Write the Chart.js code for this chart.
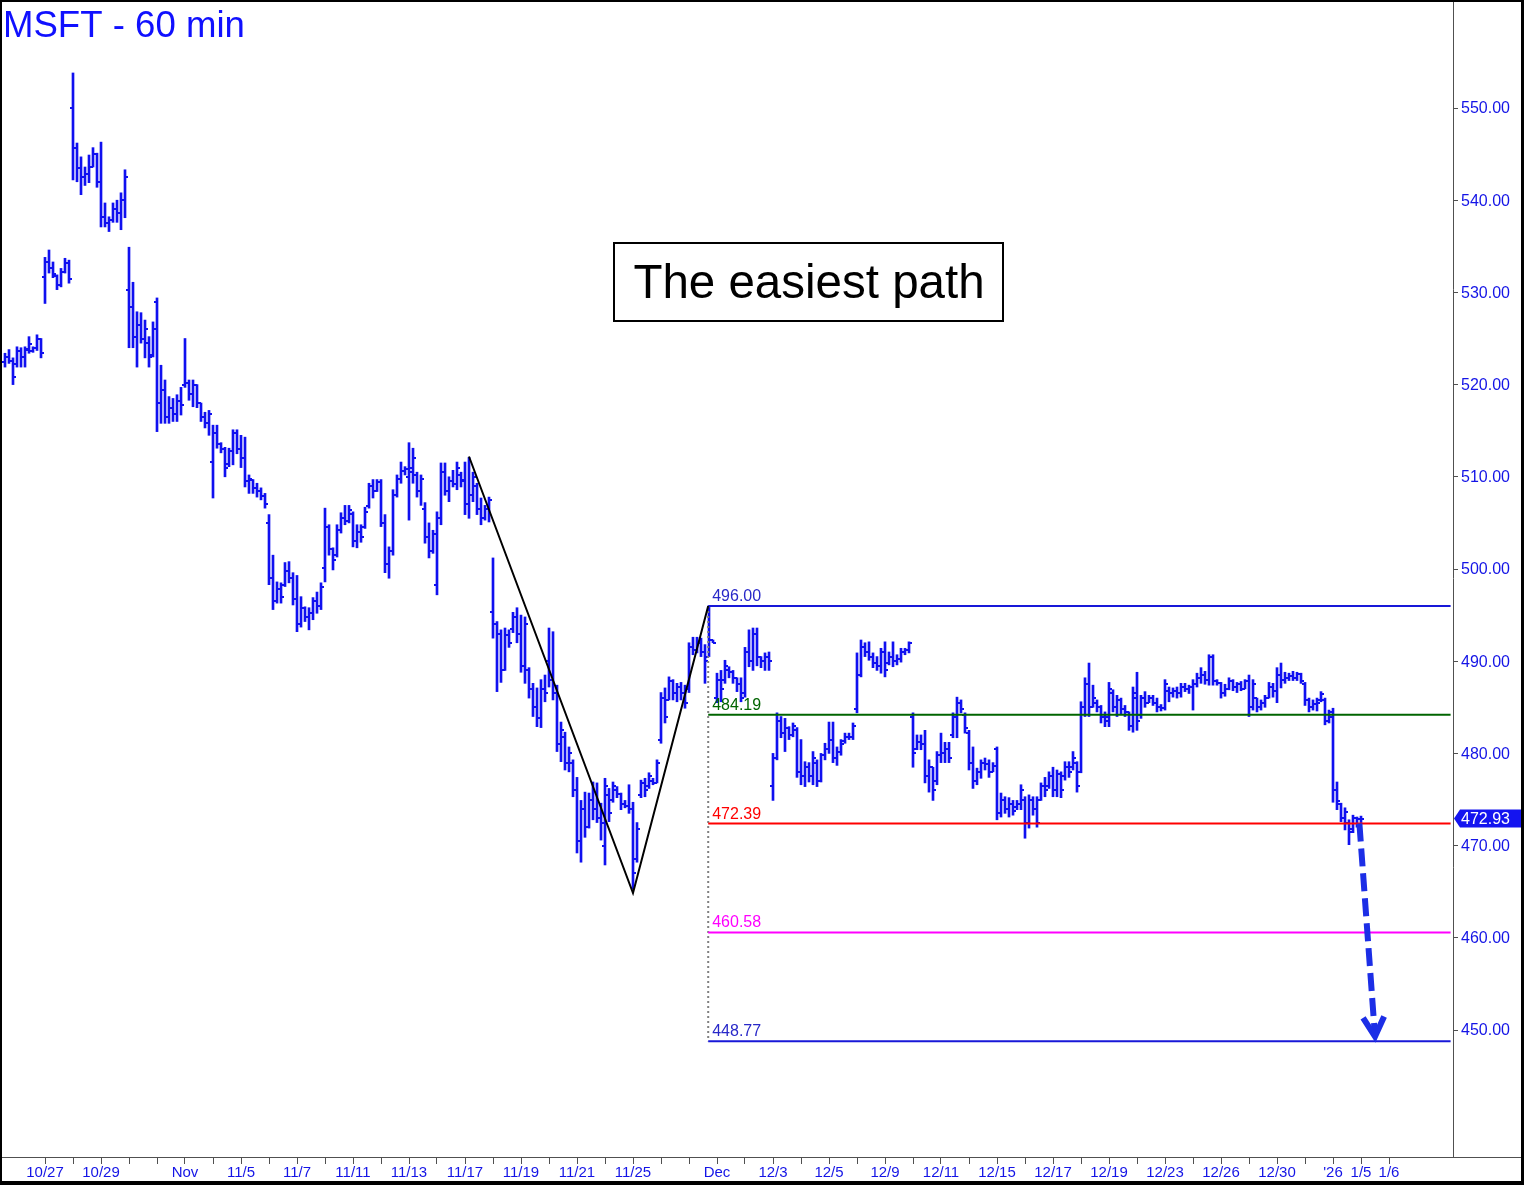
<!DOCTYPE html>
<html>
<head>
<meta charset="utf-8">
<title>MSFT - 60 min</title>
<script src="https://cdn.jsdelivr.net/npm/chart.js"></script>
<style>
  html, body { margin: 0; padding: 0; background: #fff; }
  #wrap { position: relative; width: 1524px; height: 1185px; }
</style>
</head>
<body>
<div id="wrap"><canvas id="chart"></canvas></div>
<script>
// hourly bars: [open, high, low, close], first one is bar index -10
const firstBar = -10;
const barsPerDay = 7;
const bars = [
  // 10/23 - 10/24
  [522.5,523.4,521.9,523.0],[523.0,523.8,522.3,522.6],[522.6,522.9,520.0,520.8],
  [522.2,524.1,521.9,523.6],[523.6,524.0,521.9,523.0],[523.0,524.1,521.9,523.9],[523.8,525.2,523.4,524.4],[523.6,524.1,523.5,524.0],[524.0,525.4,523.7,525.0],[525.0,525.0,522.9,523.4],
  // 10/27
  [531.7,533.8,528.8,533.3],[533.3,534.6,532.1,532.6],[532.6,533.3,531.6,532.0],[531.8,531.9,530.3,530.8],[530.8,532.6,530.6,532.2],[532.2,533.7,532.1,533.2],[533.2,533.5,531.0,531.4],
  // 10/28
  [550.0,553.8,542.2,545.7],[545.7,546.2,542.0,543.5],[543.5,544.7,540.6,542.5],[542.5,543.6,541.6,542.8],[542.8,544.9,541.9,543.6],[543.6,545.7,543.6,545.0],[545.0,545.1,541.4,542.0],
  // 10/29
  [542.0,546.3,537.1,538.2],[538.2,539.7,537.1,537.5],[537.5,538.2,536.6,537.8],[537.8,539.7,537.6,539.0],[539.0,540.0,537.6,538.6],[538.6,540.8,536.8,540.0],[540.0,543.3,538.1,542.5],
  // 10/30
  [530.3,534.9,524.0,528.4],[528.4,531.1,524.0,525.2],[525.2,527.9,521.9,526.5],[526.5,527.8,524.5,525.0],[525.0,527.0,522.9,526.0],[524.5,525.2,521.9,523.0],[523.2,526.8,523.0,526.0],
  // 10/31
  [529.0,529.4,514.9,518.0],[518.0,522.1,515.8,519.4],[519.4,520.5,515.8,516.5],[516.5,518.7,515.8,517.5],[517.5,518.5,516.0,516.8],[516.8,518.9,516.0,518.2],[518.2,519.7,516.7,517.8],
  // 11/3
  [520.0,525.0,519.7,520.2],[520.2,520.5,518.3,519.0],[519.0,520.5,517.6,520.0],[520.0,520.0,517.5,518.0],[518.0,518.0,516.0,516.5],[516.5,517.0,515.3,515.8],[515.8,517.2,514.5,516.8],
  // 11/4
  [511.6,515.6,507.7,514.7],[514.7,515.6,513.1,513.6],[513.6,513.7,512.6,513.0],[513.0,513.2,510.0,511.0],[511.4,513.1,511.1,512.8],[512.8,515.1,511.3,514.8],[514.8,515.1,512.5,513.0],
  // 11/5
  [513.0,514.5,511.0,512.0],[512.0,514.3,508.9,509.5],[509.5,510.2,508.2,509.8],[509.6,509.7,508.2,508.8],[508.8,509.3,507.8,508.5],[508.5,508.8,507.5,507.9],[507.9,508.2,506.6,507.0],
  // 11/6
  [505.0,505.9,498.3,499.0],[499.0,501.5,495.6,496.5],[496.5,498.6,496.3,497.8],[497.8,498.5,496.3,497.0],[498.3,500.7,498.1,499.8],[499.8,500.8,498.5,499.0],[499.0,499.6,496.1,496.8],
  // 11/7
  [496.8,499.3,493.2,494.0],[494.0,497.0,493.7,495.8],[495.8,495.9,494.3,494.8],[494.8,495.8,493.4,495.2],[495.2,496.9,494.5,496.5],[496.5,497.5,495.2,496.0],[496.0,498.5,495.6,498.0],
  // 11/10
  [500.1,506.6,498.6,504.6],[504.6,504.8,501.5,502.2],[502.2,502.3,499.9,501.0],[501.5,504.8,501.3,504.2],[504.2,506.1,503.9,505.5],[505.5,506.9,504.8,505.2],[505.2,506.9,505.0,506.4],
  // 11/11
  [506.0,506.2,502.4,503.0],[503.0,504.8,502.3,504.0],[504.0,504.8,502.9,503.5],[504.6,506.7,504.4,506.2],[506.8,509.3,506.6,509.0],[509.0,509.7,507.7,508.5],[508.5,509.7,508.4,509.4],
  // 11/12
  [509.4,509.7,504.6,505.0],[505.0,505.9,499.6,500.5],[500.5,502.4,499.0,502.0],[502.0,508.6,501.5,508.0],[508.0,510.2,507.8,509.8],[509.8,511.6,509.3,510.6],[510.6,511.1,510.2,510.8],
  // 11/13
  [510.0,513.7,505.3,511.0],[510.5,513.1,509.3,512.0],[510.2,510.5,507.8,508.5],[508.5,510.2,506.9,509.8],[506.5,507.2,502.8,503.5],[503.5,505.0,501.2,502.0],[502.0,504.2,501.7,503.8],
  // 11/14
  [498.3,506.2,497.2,505.5],[505.5,511.5,504.8,510.5],[510.5,511.5,508.0,508.5],[508.5,510.0,507.3,509.5],[509.5,510.7,508.9,509.2],[509.2,511.6,508.6,511.0],[510.2,510.5,508.9,509.6],
  // 11/17
  [509.5,511.6,505.9,507.0],[507.0,512.1,505.5,508.0],[508.0,510.5,507.3,510.0],[509.0,509.3,505.9,506.5],[506.5,507.7,504.8,505.5],[505.5,506.9,505.3,506.5],[506.5,507.8,505.1,507.5],
  // 11/18
  [495.3,501.2,492.5,494.0],[494.0,494.3,486.7,493.0],[493.0,493.4,487.7,489.0],[489.0,493.6,489.0,492.8],[492.8,493.4,491.5,492.0],[493.5,495.3,493.1,494.8],[494.8,495.8,492.0,493.0],
  // 11/19
  [493.0,495.0,488.8,489.5],[489.5,494.8,487.6,494.0],[489.0,489.3,486.0,487.0],[487.0,487.6,484.0,485.0],[485.0,487.1,482.9,483.8],[483.8,488.0,482.8,487.0],[487.0,488.5,485.6,486.5],
  // 11/20
  [490.0,493.6,487.2,488.0],[488.0,493.2,485.8,486.5],[486.5,487.4,480.2,481.0],[481.0,483.4,479.1,482.5],[481.8,482.3,478.2,479.0],[479.0,480.7,478.0,480.0],[479.0,479.3,475.3,476.0],
  // 11/21
  [476.0,477.4,469.2,470.5],[470.5,474.9,468.2,474.0],[474.0,475.8,470.9,472.0],[472.0,475.7,471.9,475.0],[475.0,476.9,472.8,474.0],[474.0,476.8,472.5,473.0],[473.0,474.6,470.6,472.5],
  // 11/24
  [470.0,477.3,467.9,476.5],[475.5,476.2,472.6,473.5],[475.0,476.9,474.7,476.5],[476.0,476.4,475.2,475.6],[475.6,475.7,473.9,474.5],[474.5,474.9,474.1,474.3],[474.3,476.6,473.5,474.0],
  // 11/25
  [474.0,474.7,465.3,467.0],[468.5,472.5,468.2,471.8],[475.5,477.1,475.2,476.8],[476.8,477.3,475.3,476.0],[476.5,477.9,476.2,477.5],[477.0,477.3,476.6,476.8],[476.8,479.3,476.8,479.0],
  // 11/26
  [481.5,486.6,481.1,486.0],[486.0,487.1,483.3,484.0],[485.8,488.3,485.8,487.8],[487.8,488.0,485.8,486.5],[486.5,487.6,485.6,487.2],[487.2,487.7,485.8,486.5],[486.5,487.4,484.9,485.5],
  // 11/28
  [487.0,492.0,486.6,491.5],[491.5,492.6,490.7,491.2],[491.2,492.6,490.9,492.0],[492.0,492.5,490.5,491.0],[491.0,491.8,487.6,490.0],[490.5,496.0,490.5,492.3],[492.3,492.3,492.0,492.0],
  // 12/1
  [486.0,488.7,485.5,488.0],[488.0,489.0,485.6,487.0],[488.0,490.1,487.6,489.5],[489.0,489.4,488.2,488.8],[488.8,489.0,487.6,488.2],[488.2,488.2,486.7,487.5],[487.5,488.2,485.6,486.0],
  // 12/2
  [486.5,491.5,486.1,491.0],[491.0,493.4,489.4,490.0],[490.0,493.6,489.0,493.0],[493.0,493.6,489.5,490.5],[490.5,490.5,489.3,490.0],[490.0,490.9,489.0,490.5],[490.5,491.0,489.0,490.0],
  // 12/3
  [476.5,480.0,474.9,479.5],[479.5,484.4,479.3,483.5],[483.5,484.0,481.7,482.2],[482.2,483.8,480.2,482.8],[482.8,482.9,481.5,482.0],[482.0,483.3,481.8,483.0],[482.5,482.8,477.4,478.0],
  // 12/4
  [478.0,481.5,476.6,477.5],[477.5,479.1,476.4,478.5],[478.5,479.0,476.9,477.5],[477.5,480.2,476.6,479.5],[479.0,479.3,476.4,477.0],[477.0,480.0,476.9,479.8],[479.8,481.1,479.3,480.5],
  // 12/5
  [480.5,483.4,480.0,481.5],[481.5,483.4,479.0,479.5],[479.5,480.7,478.7,480.2],[480.2,481.5,479.8,481.0],[481.3,482.2,481.1,481.8],[481.8,482.2,481.5,481.8],[481.8,483.3,481.5,483.0],
  // 12/8
  [484.8,490.9,484.4,488.5],[488.5,492.3,488.3,491.5],[491.5,492.0,490.5,491.0],[491.0,492.1,490.1,490.5],[490.5,490.9,489.3,489.8],[489.8,490.5,489.0,489.5],[489.5,491.4,488.7,491.0],
  // 12/9
  [491.0,492.1,488.3,489.0],[489.8,491.0,489.6,490.5],[490.5,492.1,489.4,490.0],[490.0,490.7,489.6,490.2],[490.2,491.4,489.9,491.0],[491.0,491.4,490.7,491.2],[491.2,492.1,490.9,492.0],
  // 12/10
  [484.0,484.4,478.5,480.0],[480.5,482.0,480.4,481.2],[481.2,482.0,480.4,481.0],[481.0,482.5,476.8,477.5],[477.5,479.3,475.8,478.5],[478.5,478.5,474.9,476.0],[477.0,480.2,476.6,479.8],
  // 12/11
  [479.8,482.2,479.0,480.0],[480.0,481.2,479.0,480.5],[480.5,481.2,479.0,479.5],[482.0,484.4,481.7,484.0],[484.0,486.1,481.7,485.5],[485.5,485.8,484.4,484.8],[484.2,484.4,482.2,482.8],
  // 12/12
  [482.2,482.5,478.2,479.0],[479.0,480.7,476.2,477.0],[477.0,478.4,476.6,478.0],[478.0,479.3,477.3,479.0],[479.0,479.5,478.2,478.8],[478.8,479.3,477.4,478.0],[478.0,479.0,478.0,478.6],
  // 12/15
  [480.5,480.7,472.8,473.5],[473.5,475.7,473.1,475.0],[475.0,475.3,473.5,474.0],[474.0,475.2,473.1,474.5],[474.5,474.9,473.3,473.8],[474.2,474.9,473.9,474.5],[474.5,476.6,473.9,476.0],
  // 12/16
  [475.0,475.3,470.8,472.5],[472.5,475.5,471.9,475.0],[475.0,475.3,473.3,474.0],[474.0,475.3,472.0,472.5],[475.0,476.8,474.9,476.5],[476.5,477.4,475.3,476.0],[476.5,478.0,476.2,477.5],
  // 12/17
  [477.5,478.5,475.3,476.0],[476.0,478.2,475.3,477.8],[477.8,478.0,475.2,476.0],[477.5,479.1,477.1,478.5],[478.5,479.1,477.4,478.0],[478.5,480.2,478.2,479.5],[479.0,479.1,475.8,476.5],
  // 12/18
  [478.0,485.6,477.9,485.0],[485.0,488.2,484.0,487.5],[487.5,489.8,484.0,485.0],[485.0,487.4,485.0,486.0],[485.5,485.8,484.5,485.0],[485.0,485.2,483.3,484.0],[484.0,484.5,482.9,483.5],
  // 12/19
  [484.0,487.7,482.9,487.0],[486.5,486.9,484.5,485.0],[485.0,486.3,484.0,485.8],[485.8,486.0,484.2,484.8],[484.8,485.2,484.0,484.5],[484.5,484.5,482.5,483.0],[483.0,487.2,482.3,486.5],
  // 12/22
  [486.0,488.8,482.5,483.5],[484.2,486.3,483.8,486.0],[486.0,486.7,485.0,485.5],[485.5,486.3,485.5,486.0],[486.0,486.3,485.2,485.5],[485.5,486.0,484.5,485.0],[485.0,485.3,484.6,484.9],
  // 12/23
  [484.9,488.0,484.7,487.5],[486.8,487.2,485.6,486.5],[486.5,487.1,486.1,486.8],[486.8,487.2,486.0,486.5],[486.5,487.6,486.1,487.2],[487.2,487.6,486.7,487.0],[487.0,487.4,486.5,487.2],
  // 12/24
  [487.2,488.0,484.7,487.5],[487.5,488.7,487.2,488.2],[488.2,489.3,487.6,488.5],[488.5,488.9,487.5,488.0],[488.0,490.7,487.4,490.5],[490.5,490.7,487.4,487.8],[487.8,488.0,487.4,487.6],
  // 12/26
  [487.6,487.7,486.0,486.5],[486.5,487.5,486.2,487.0],[487.0,488.2,486.9,487.8],[487.8,488.0,486.8,487.2],[487.2,487.7,486.6,487.5],[487.5,487.8,486.8,487.0],[487.0,488.0,487.0,487.8],
  // 12/29
  [487.8,488.5,484.0,485.0],[485.0,488.0,484.7,487.5],[486.0,486.0,484.5,485.0],[485.0,485.8,484.7,485.5],[485.5,486.3,485.0,486.0],[486.0,487.7,486.0,487.2],[487.2,487.6,486.1,486.8],
  // 12/30
  [486.8,489.3,485.5,488.5],[488.5,489.8,487.1,488.0],[488.0,488.8,487.6,488.2],[488.2,488.7,487.9,488.4],[488.4,488.9,487.9,488.2],[488.2,488.8,487.9,488.6],[488.6,488.7,487.6,487.9],
  // 12/31
  [487.5,487.7,485.2,485.8],[485.8,486.0,484.5,485.0],[485.0,485.8,484.7,485.4],[485.4,486.0,484.6,485.5],[485.8,486.7,485.6,486.4],[485.8,486.0,483.1,483.5],[483.5,484.7,483.3,484.5],
  // 1/2
  [484.0,484.9,474.7,476.0],[476.0,476.9,473.9,474.8],[474.5,474.6,472.6,473.0],[473.0,474.1,471.7,473.6],[472.5,472.8,470.1,471.5],[471.8,473.3,471.4,473.0],[473.0,473.1,472.0,472.9],
  // 1/5
  [472.9,473.2,472.5,472.93]
];
const lastPrice = 472.93;

// x axis: day index (0 = 10/27), a tick on every day, text on some
const dayTicks = [0,1,2,3,4,5,6,7,8,9,10,11,12,13,14,15,16,17,18,19,20,21,22,23,24,25,26,27,28,29,30,31,32,33,34,35,36,37,38,39,40,41,42,43,44,45,46,47,48];
const labelDays = [0, 2, 5, 7, 9, 11, 13, 15, 17, 19, 21, 24, 26, 28, 30, 32, 34, 36, 38, 40, 42, 44, 46, 47, 48];
const labelTexts = ['10/27','10/29','Nov','11/5','11/7','11/11','11/13','11/17','11/19','11/21','11/25','Dec','12/3','12/5','12/9','12/11','12/15','12/17','12/19','12/23','12/26','12/30',"'26",'1/5','1/6'];

// y axis ticks
const yTicks = [450, 460, 470, 480, 490, 500, 510, 520, 530, 540, 550];

// target levels, drawn from the 11/28 high
const levels = [496.00, 484.19, 472.39, 460.58, 448.77];
const levelStart = 165.8;
const levelEnd = 351.4;

// ABC swing line (bar index, price)
const abcBars = [106, 147, 165.8];
const abcPrices = [512.2, 464.86, 496.0];

// projected move arrow
const arrowFrom = [328.6, 472.4];
const arrowTo = [332.5, 449.3];

// styles
const FONT = '"Liberation Sans", Arial, Helvetica, sans-serif';
const barColor = '#1010f0';
const axisTextColor = '#1414e6';
const levelLineColors = ['#1818d8', '#006400', '#ff0000', '#ff00ff', '#1818d8'];
const levelTextColors = ['#2828c8', '#006400', '#ff0000', '#ff00ff', '#2828c8'];
const arrowColor = '#1c2ee6';

// open / close tick images
function tickImage(side) {
    const c = document.createElement('canvas');
    c.width = 6;
    c.height = 2;
    const g = c.getContext('2d');
    g.fillStyle = barColor;
    g.fillRect(side === 'left' ? 0 : 3, 0, 3, 2);
    return c;
}

// no automatic label padding, so the plot area stays where the picture has it
function fixScale(scale, size) {
    if (scale.isHorizontal()) scale.height = size;
    else scale.width = size;
    scale.paddingLeft = 0;
    scale.paddingRight = 0;
    scale.paddingTop = 0;
    scale.paddingBottom = 0;
}

const rangeData = bars.map((b, i) => ({ x: firstBar + i, y: [b[2], b[1]] }));
const openData = bars.map((b, i) => ({ x: firstBar + i, y: b[0] }));
const closeData = bars.map((b, i) => ({ x: firstBar + i, y: b[3] }));

const levelSets = levels.map((v, i) => ({
    type: 'line',
    data: [{ x: levelStart, y: v }, { x: levelEnd, y: v }],
    borderColor: levelLineColors[i],
    borderWidth: 2,
    pointRadius: 0,
    order: 1
}));

// overlay: frame, titles, level labels, price tag, arrow head
const overlay = {
    id: 'overlay',
    afterDraw(chart) {
        const { ctx, chartArea, scales: { x, y } } = chart;
        ctx.save();

        // axis lines
        ctx.strokeStyle = '#505050';
        ctx.lineWidth = 1;
        ctx.beginPath();
        ctx.moveTo(chartArea.right + 0.5, 0);
        ctx.lineTo(chartArea.right + 0.5, chartArea.bottom);
        ctx.moveTo(0, chartArea.bottom + 0.5);
        ctx.lineTo(chart.width, chartArea.bottom + 0.5);
        ctx.stroke();

        // level labels
        ctx.font = '16px ' + FONT;
        ctx.textAlign = 'left';
        ctx.textBaseline = 'alphabetic';
        levels.forEach((v, i) => {
            ctx.fillStyle = levelTextColors[i];
            ctx.fillText(v.toFixed(2), x.getPixelForValue(levelStart) + 4, y.getPixelForValue(v) - 5);
        });

        // arrow head
        const x0 = x.getPixelForValue(arrowFrom[0]), y0 = y.getPixelForValue(arrowFrom[1]);
        const x1 = x.getPixelForValue(arrowTo[0]), y1 = y.getPixelForValue(arrowTo[1]);
        const ang = Math.atan2(y1 - y0, x1 - x0);
        const len = 22, spread = 0.5;
        ctx.strokeStyle = arrowColor;
        ctx.lineWidth = 6;
        ctx.lineJoin = 'miter';
        ctx.beginPath();
        ctx.moveTo(x1 - len * Math.cos(ang - spread), y1 - len * Math.sin(ang - spread));
        ctx.lineTo(x1, y1);
        ctx.lineTo(x1 - len * Math.cos(ang + spread), y1 - len * Math.sin(ang + spread));
        ctx.stroke();

        // last price tag
        const py = y.getPixelForValue(lastPrice);
        const left = chartArea.right + 1;
        ctx.fillStyle = '#1414f0';
        ctx.beginPath();
        ctx.moveTo(left, py);
        ctx.lineTo(left + 6, py - 9);
        ctx.lineTo(chart.width - 3, py - 9);
        ctx.lineTo(chart.width - 3, py + 9);
        ctx.lineTo(left + 6, py + 9);
        ctx.closePath();
        ctx.fill();
        ctx.fillStyle = '#ffffff';
        ctx.font = '16px ' + FONT;
        ctx.textBaseline = 'middle';
        ctx.fillText(lastPrice.toFixed(2), left + 7, py + 1);

        // title
        ctx.fillStyle = '#1010ff';
        ctx.font = '36.6px ' + FONT;
        ctx.textBaseline = 'alphabetic';
        ctx.fillText('MSFT - 60 min', 3, 37);

        // caption box
        ctx.fillStyle = '#ffffff';
        ctx.fillRect(613, 242, 391, 80);
        ctx.strokeStyle = '#000000';
        ctx.lineWidth = 2;
        ctx.strokeRect(614, 243, 389, 78);
        ctx.fillStyle = '#000000';
        ctx.font = '47.5px ' + FONT;
        ctx.textAlign = 'center';
        ctx.fillText('The easiest path', 809, 298);

        // image frame
        ctx.fillStyle = '#000000';
        ctx.fillRect(0, 0, chart.width, 2);
        ctx.fillRect(0, 0, 2, chart.height);
        ctx.fillRect(chart.width - 3, 0, 3, chart.height);
        ctx.fillRect(0, chart.height - 4, chart.width, 4);
        ctx.restore();
    }
};

new Chart(document.getElementById('chart'), {
    type: 'bar',
    data: {
        datasets: [
            ...levelSets,
            {
                type: 'line',
                data: abcBars.map((b, i) => ({ x: b, y: abcPrices[i] })),
                borderColor: '#000000',
                borderWidth: 2,
                pointRadius: 0,
                order: 0
            },
            {
                type: 'line',
                data: [{ x: levelStart, y: levels[0] }, { x: levelStart, y: levels[4] }],
                borderColor: '#808080',
                borderWidth: 2,
                borderDash: [2, 3],
                pointRadius: 0,
                order: 3
            },
            {
                type: 'line',
                data: [{ x: arrowFrom[0], y: arrowFrom[1] }, { x: arrowTo[0], y: arrowTo[1] }],
                borderColor: arrowColor,
                borderWidth: 6,
                borderDash: [18, 7],
                borderCapStyle: 'butt',
                pointRadius: 0,
                order: 0
            },
            {
                type: 'bar',
                data: rangeData,
                backgroundColor: barColor,
                borderWidth: 0,
                barThickness: 2,
                order: 5
            },
            {
                type: 'scatter',
                data: openData,
                pointStyle: tickImage('left'),
                pointRadius: 3,
                order: 4
            },
            {
                type: 'scatter',
                data: closeData,
                pointStyle: tickImage('right'),
                pointRadius: 3,
                order: 4
            }
        ]
    },
    options: {
        responsive: true,
        maintainAspectRatio: false,
        animation: false,
        events: [],
        layout: { autoPadding: false, padding: { left: 2, top: 2, right: 0, bottom: 0 } },
        plugins: {
            legend: { display: false },
            tooltip: { enabled: false }
        },
        scales: {
            x: {
                type: 'linear',
                position: 'bottom',
                min: -10.75,
                max: 352,
                offset: false,
                grid: { drawOnChartArea: false, offset: false, tickLength: 7, color: '#505050' },
                border: { display: false },
                ticks: {
                    autoSkip: false,
                    maxRotation: 0,
                    minRotation: 0,
                    padding: 0,
                    color: axisTextColor,
                    font: { family: FONT, size: 15 },
                    callback: (value) => {
                        const i = labelDays.indexOf(value / barsPerDay);
                        return i >= 0 ? labelTexts[i] : '';
                    }
                },
                afterBuildTicks: (scale) => {
                    scale.ticks = dayTicks.map(d => ({ value: d * barsPerDay }));
                },
                afterFit: (scale) => fixScale(scale, 28)
            },
            y: {
                type: 'linear',
                position: 'right',
                min: 436.226,
                max: 561.497,
                grid: { drawOnChartArea: false, tickLength: 5, color: '#505050' },
                border: { display: false },
                ticks: {
                    padding: 3,
                    labelOffset: 1,
                    color: axisTextColor,
                    font: { family: FONT, size: 16 },
                    callback: (value) => Number(value).toFixed(2)
                },
                afterBuildTicks: (scale) => {
                    scale.ticks = yTicks.map(v => ({ value: v }));
                },
                afterFit: (scale) => fixScale(scale, 71)
            }
        }
    },
    plugins: [overlay]
});
</script>
</body>
</html>
